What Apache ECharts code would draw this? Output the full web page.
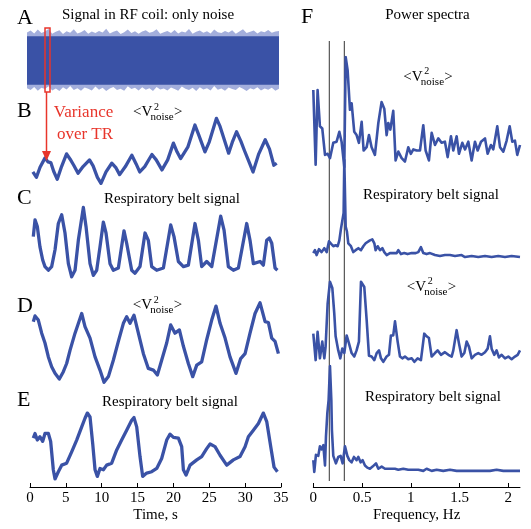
<!DOCTYPE html>
<html><head><meta charset="utf-8">
<script src="https://cdn.jsdelivr.net/npm/echarts@6/dist/echarts.min.js"></script>
<style>html,body{margin:0;padding:0;background:#fff}#c{width:531px;height:529px}</style>
</head><body><div id="c"></div>
<script>
// ---------- DATA (arbitrary units) ----------
const timeTicks = [0,5,10,15,20,25,30,35];
const freqTicks = [0,0.5,1,1.5,2];
const respMarkersHz = [0.164,0.318];

// A: raw RF coil noise envelope (0..20 a.u.), sampled every 0.5 s
const noiseStep = 0.5;
const noiseUpper = [18.6,19.2,18.3,19.5,18.4,18.9,19.7,18.2,18.8,19.3,18.1,19.0,18.5,19.6,18.3,18.7,19.4,18.2,18.9,18.4,19.1,18.6,19.8,18.3,18.8,19.2,18.1,18.7,19.5,18.4,19.0,18.2,18.9,19.3,18.5,18.8,19.6,18.2,18.7,19.1,18.4,19.4,18.3,18.9,18.6,19.7,18.2,18.8,19.2,18.5,19.0,18.3,19.5,18.7,18.4,19.1,18.6,19.3,18.2,18.9,19.6,18.4,18.8,19.2,18.3,19.0,18.7,19.4,18.5,18.9,19.1];
const noiseLower = [1.2,0.6,1.6,0.4,1.3,0.9,1.8,0.5,1.1,0.3,1.5,0.8,1.9,0.6,1.2,0.4,1.4,1.0,0.5,1.7,0.7,1.3,0.3,1.1,1.6,0.6,1.0,0.4,1.8,0.9,1.3,0.5,1.5,0.7,1.2,0.3,1.6,0.8,1.1,0.5,1.4,0.9,0.4,1.7,1.0,0.6,1.3,0.3,1.5,0.8,1.2,0.5,1.9,0.7,1.1,0.4,1.4,0.9,0.6,1.6,1.0,0.3,1.2,0.8,1.5,0.5,1.1,0.7,1.3,0.4,1.0];
const noiseCoreTop = 17.4;
const noiseCoreBottom = 2.3;

// B: <V^2 noise> vs time [s, a.u.]
const panelB = [[0.4,1.8],[0.9,1.0],[1.4,2.5],[2.1,3.9],[2.5,3.3],[2.9,3.2],[3.3,1.9],[3.8,0.7],[4.4,2.6],[5.1,4.5],[5.6,3.7],[6.1,2.8],[6.7,1.6],[7.4,2.6],[8.3,3.6],[8.8,2.7],[9.4,1.0],[9.9,0.1],[10.6,1.8],[11.4,3.1],[12.0,2.4],[12.5,1.4],[13.3,2.6],[14.2,4.3],[14.8,3.0],[15.3,1.8],[16.0,2.6],[17.0,4.4],[17.6,3.6],[18.4,2.1],[19.2,3.6],[20.0,6.1],[20.5,4.8],[21.0,3.8],[22.0,5.5],[23.0,8.8],[23.5,7.4],[24.4,4.8],[25.0,6.3],[26.0,9.8],[26.5,8.6],[27.7,4.6],[28.2,6.2],[28.8,7.8],[29.4,6.4],[29.9,5.0],[30.5,3.4],[31.1,1.8],[31.9,4.5],[32.8,6.6],[33.4,5.2],[34.0,2.8],[34.4,3.1]];
// C: respiratory belt signal
const panelC = [[0.46,5.8],[0.70,8.1],[1.02,7.2],[1.39,4.4],[1.77,2.6],[2.09,1.7],[2.56,1.2],[3.02,1.7],[3.49,4.0],[3.95,7.6],[4.42,8.8],[4.88,6.3],[5.35,2.1],[5.81,0.3],[6.28,1.2],[6.74,5.3],[7.44,9.8],[7.81,7.2],[8.37,2.1],[8.83,0.5],[9.30,1.2],[9.76,4.4],[10.23,7.8],[10.60,6.3],[11.16,2.1],[11.62,1.2],[12.32,1.5],[13.11,6.6],[13.48,4.9],[14.18,1.2],[14.64,0.8],[15.34,1.7],[16.04,6.3],[16.50,5.3],[16.97,1.7],[17.67,1.2],[18.60,1.5],[19.62,7.4],[20.08,5.8],[20.69,2.4],[21.39,1.7],[22.08,1.9],[23.01,7.6],[23.48,5.3],[23.94,1.7],[24.64,2.4],[25.34,1.7],[26.59,8.6],[27.06,6.7],[27.66,1.7],[28.36,1.2],[29.06,1.5],[30.22,7.6],[30.68,5.3],[31.15,2.1],[32.08,2.4],[32.54,1.9],[33.01,5.3],[33.38,5.6],[33.71,4.9],[34.17,1.5],[34.50,1.2]];
// D: <V^2 noise> (second recording)
const panelD = [[0.46,7.6],[0.70,8.3],[1.16,7.8],[1.63,6.2],[2.09,5.0],[2.56,3.3],[3.02,2.1],[3.49,1.3],[4.09,0.6],[4.65,1.5],[5.11,2.5],[5.58,4.1],[6.28,6.2],[7.21,8.6],[7.67,7.0],[8.37,5.6],[9.07,3.3],[9.76,1.7],[10.32,0.2],[10.93,0.9],[11.62,2.9],[12.32,5.2],[13.02,7.4],[13.48,8.2],[13.95,7.4],[14.50,8.4],[15.11,6.2],[15.81,3.7],[16.50,1.9],[17.20,1.7],[17.76,1.1],[18.36,2.9],[19.06,5.0],[19.62,7.2],[20.22,6.2],[20.83,6.6],[21.39,4.6],[22.08,2.5],[22.69,0.9],[23.25,2.3],[23.94,2.7],[24.64,5.4],[25.34,7.8],[25.94,9.5],[26.50,7.4],[27.20,5.6],[27.89,3.3],[28.73,1.3],[29.38,3.1],[29.99,3.7],[30.68,6.2],[31.38,8.6],[32.08,9.9],[32.78,7.6],[33.24,7.5],[33.71,5.6],[34.17,5.2],[34.64,3.7]];
// E: respiratory belt signal (second recording)
const panelE = [[0.46,6.2],[0.70,6.9],[1.02,5.9],[1.39,6.4],[1.77,5.7],[2.09,6.9],[2.56,6.9],[2.88,5.7],[3.25,1.4],[3.49,0.0],[3.95,1.1],[4.42,2.1],[5.11,2.4],[5.81,4.1],[6.51,5.9],[7.21,7.9],[7.67,9.2],[8.00,10.0],[8.37,9.4],[8.74,5.4],[9.07,1.4],[9.39,0.4],[9.76,1.6],[10.23,1.4],[10.69,2.1],[11.39,2.4],[12.09,4.4],[12.78,5.9],[13.48,7.4],[14.18,8.9],[14.50,9.3],[14.88,7.9],[15.34,3.4],[15.71,0.4],[16.27,0.9],[16.97,1.1],[17.67,1.6],[18.36,3.1],[19.06,5.9],[19.53,6.8],[20.00,6.3],[20.69,6.2],[21.15,4.9],[21.39,1.4],[21.76,0.6],[22.32,2.1],[23.25,2.9],[23.94,3.4],[24.64,4.6],[25.11,5.3],[25.80,4.9],[26.50,3.6],[27.43,2.1],[28.36,2.9],[29.29,3.4],[29.99,4.9],[30.45,6.4],[31.15,7.4],[31.85,8.4],[32.54,10.0],[33.01,8.7],[33.57,4.9],[34.03,1.8],[34.50,1.1]];

// F: power spectra [Hz, a.u.]
const specB = [[0,7.0],[0.024,0.2],[0.044,7.0],[0.068,3.7],[0.092,3.5],[0.12,1.1],[0.147,1.2],[0.171,0.8],[0.205,2.2],[0.239,2.3],[0.267,3.2],[0.29,2.3],[0.318,0.0],[0.332,10.0],[0.352,8.8],[0.376,5.2],[0.393,5.8],[0.42,3.2],[0.444,2.9],[0.468,2.2],[0.496,4.1],[0.516,1.5],[0.547,1.8],[0.571,2.9],[0.598,1.8],[0.632,1.1],[0.667,4.0],[0.70,5.9],[0.728,5.3],[0.752,2.9],[0.769,4.0],[0.79,3.4],[0.82,5.1],[0.844,0.6],[0.872,1.4],[0.906,0.8],[0.94,0.5],[0.974,1.8],[1.0,1.2],[1.026,1.6],[1.06,1.5],[1.094,1.5],[1.128,3.8],[1.152,1.5],[1.186,0.6],[1.214,3.1],[1.248,2.0],[1.282,2.6],[1.316,2.2],[1.35,2.3],[1.378,0.9],[1.412,2.8],[1.436,1.5],[1.47,2.8],[1.494,1.2],[1.528,2.2],[1.556,1.6],[1.59,2.3],[1.624,0.6],[1.658,2.3],[1.686,1.5],[1.72,2.3],[1.761,2.6],[1.788,1.2],[1.822,2.0],[1.846,1.6],[1.887,3.7],[1.915,1.8],[1.949,1.4],[1.983,2.4],[2.014,3.7],[2.041,2.3],[2.068,2.4],[2.092,1.1],[2.12,2.0]];
const specC = [[0,0.5],[0.017,0.8],[0.034,0.3],[0.058,0.9],[0.085,0.6],[0.113,1.0],[0.137,0.6],[0.161,1.7],[0.181,1.5],[0.205,1.2],[0.229,1.3],[0.25,1.2],[0.267,1.8],[0.284,3.0],[0.297,2.9],[0.311,4.6],[0.318,10.0],[0.332,3.2],[0.345,2.7],[0.359,1.5],[0.386,1.2],[0.41,0.6],[0.434,0.8],[0.462,1.0],[0.489,0.8],[0.513,1.2],[0.537,1.5],[0.557,1.5],[0.581,1.8],[0.605,1.9],[0.626,1.5],[0.639,0.8],[0.66,1.2],[0.684,0.8],[0.708,1.0],[0.728,0.6],[0.752,0.3],[0.786,0.5],[0.82,0.5],[0.855,0.5],[0.872,0.8],[0.899,0.4],[0.933,0.5],[0.967,0.4],[1.009,0.5],[1.05,0.5],[1.077,0.6],[1.104,1.1],[1.128,0.5],[1.162,0.4],[1.197,0.5],[1.248,0.3],[1.299,0.2],[1.35,0.3],[1.402,0.3],[1.453,0.2],[1.521,0.3],[1.556,0.1],[1.624,0.2],[1.692,0.1],[1.761,0.2],[1.829,0.1],[1.897,0.2],[1.966,0.1],[2.034,0.2],[2.12,0.1]];
const specD = [[0,3.9],[0.024,0.9],[0.044,4.1],[0.068,1.1],[0.092,3.0],[0.113,1.1],[0.126,2.4],[0.147,7.3],[0.171,9.8],[0.195,9.1],[0.215,6.2],[0.229,3.6],[0.256,2.0],[0.277,1.1],[0.297,2.2],[0.318,1.7],[0.342,3.7],[0.366,2.8],[0.393,1.7],[0.42,1.3],[0.444,2.0],[0.468,3.0],[0.489,9.8],[0.503,10.0],[0.523,9.2],[0.547,5.5],[0.571,1.4],[0.598,1.3],[0.626,0.9],[0.65,1.7],[0.674,2.0],[0.694,1.1],[0.718,0.7],[0.752,1.3],[0.776,1.5],[0.796,3.7],[0.82,3.7],[0.838,5.3],[0.865,3.0],[0.889,1.3],[0.913,1.1],[0.94,1.3],[0.974,1.0],[1.009,1.1],[1.036,0.7],[1.07,1.1],[1.104,0.9],[1.138,3.9],[1.162,3.6],[1.186,3.4],[1.214,1.3],[1.248,1.7],[1.275,2.0],[1.309,1.5],[1.35,1.8],[1.385,1.5],[1.419,1.3],[1.436,2.0],[1.47,4.3],[1.494,2.8],[1.521,1.3],[1.549,1.7],[1.573,3.0],[1.597,2.4],[1.624,1.1],[1.658,1.5],[1.692,1.7],[1.726,1.5],[1.761,1.8],[1.788,2.2],[1.812,3.6],[1.829,2.2],[1.856,1.5],[1.88,2.0],[1.904,1.2],[1.932,1.5],[1.966,1.1],[2.0,1.3],[2.034,1.0],[2.068,1.3],[2.096,1.5],[2.12,2.0]];
const specE = [[0,1.2],[0.01,0.1],[0.027,1.7],[0.051,1.6],[0.068,2.5],[0.085,2.2],[0.103,2.6],[0.12,0.7],[0.13,3.4],[0.144,5.6],[0.157,6.8],[0.171,10.0],[0.185,6.8],[0.191,4.0],[0.205,1.6],[0.232,0.9],[0.256,1.5],[0.28,1.6],[0.301,0.9],[0.325,2.5],[0.349,1.6],[0.369,1.2],[0.393,1.0],[0.417,1.5],[0.444,1.2],[0.462,1.5],[0.485,1.0],[0.506,1.2],[0.53,0.7],[0.554,0.5],[0.581,0.4],[0.608,0.6],[0.643,0.9],[0.667,0.4],[0.701,0.6],[0.735,0.4],[0.769,0.4],[0.803,0.4],[0.837,0.4],[0.872,0.3],[0.923,0.4],[0.974,0.3],[1.026,0.3],[1.077,0.3],[1.128,0.2],[1.162,0.4],[1.214,0.2],[1.265,0.3],[1.333,0.2],[1.402,0.3],[1.47,0.2],[1.538,0.2],[1.607,0.2],[1.675,0.2],[1.744,0.2],[1.812,0.2],[1.88,0.3],[1.949,0.2],[2.017,0.2],[2.12,0.2]];

// ---------- CHART ----------
const BLUE = '#3a52a6';
const LIGHT = '#a3aedc';
const RED = '#e8352b';
const SERIF = '"Liberation Serif","Times New Roman",serif';
const chart = echarts.init(document.getElementById('c'), null, {renderer:'canvas'});

const grids = [
  {left:27, top:28, width:252, height:64},     // 0 A
  {left:30, top:117, width:251, height:67},    // 1 B
  {left:30, top:206, width:251, height:73},    // 2 C
  {left:30, top:302, width:251, height:82},    // 3 D
  {left:30, top:413, width:251, height:66},    // 4 E
  {left:313.3, top:57, width:206.7, height:110},  // 5 F1
  {left:313.3, top:160, width:206.7, height:98},  // 6 F2
  {left:313.3, top:280, width:206.7, height:88},  // 7 F3
  {left:313.3, top:366, width:206.7, height:107}, // 8 F4
  {left:313.3, top:41, width:206.7, height:440}   // 9 marker lines
];
const axisFont = {fontFamily:SERIF, fontSize:15, color:'#000'};
const xAxes = grids.map((g,i)=>{
  const isTime = i<5;
  const base = {type:'value', gridIndex:i, min:0, max: isTime?35:2.12, show:false};
  if (i===4) Object.assign(base,{show:true, interval:5, offset:8,
    axisLine:{onZero:false, lineStyle:{color:'#000',width:1}},
    axisTick:{inside:true,length:4,lineStyle:{color:'#000'}},
    axisLabel:Object.assign({margin:4}, axisFont), splitLine:{show:false},
    name:'Time, s', nameLocation:'middle', nameGap:21, nameTextStyle:axisFont});
  if (i===8) Object.assign(base,{show:true, offset:14,
    axisLine:{onZero:false, lineStyle:{color:'#000',width:1}},
    axisTick:{inside:true,length:4,lineStyle:{color:'#000'}, customValues:freqTicks},
    axisLabel:Object.assign({margin:4, customValues:freqTicks}, axisFont), splitLine:{show:false},
    name:'Frequency, Hz', nameLocation:'middle', nameGap:21, nameTextStyle:axisFont});
  return base;
});
const yAxes = grids.map((g,i)=>({type:'value', gridIndex:i, min:0, max: i===0?20:(i===9?1:10), show:false}));

// A: noise band drawn as opaque layered areas (each filled down to the axis minimum)
const noiseT = noiseUpper.map((_,i)=>i*noiseStep);
function layer(vals, color, z){
  return {type:'line', xAxisIndex:0, yAxisIndex:0, showSymbol:false, silent:true, z:z,
    lineStyle:{width:0}, areaStyle:{color:color, opacity:1, origin:'start'},
    data: vals.map((v,i)=>[noiseT[i], v])};
}
const series = [
  layer(noiseUpper, LIGHT, 1),
  layer(noiseUpper.map(()=>noiseCoreTop), BLUE, 2),
  layer(noiseUpper.map(()=>noiseCoreBottom), LIGHT, 3),
  layer(noiseLower, '#ffffff', 4)
];

[[panelB,1],[panelC,2],[panelD,3],[panelE,4]].forEach(([d,i])=>{
  series.push({type:'line', xAxisIndex:i, yAxisIndex:i, data:d, showSymbol:false, silent:true,
    lineStyle:{color:BLUE, width:3.3, join:'round'}, itemStyle:{color:BLUE}});
});
[[specB,5],[specC,6],[specD,7],[specE,8]].forEach(([d,i])=>{
  series.push({type:'line', xAxisIndex:i, yAxisIndex:i, data:d, showSymbol:false, silent:true, z:3,
    lineStyle:{color:BLUE, width:2.6, join:'round'}, itemStyle:{color:BLUE}});
});
respMarkersHz.forEach(m=>{
  series.push({type:'line', xAxisIndex:9, yAxisIndex:9, data:[[m,0],[m,1]], showSymbol:false, silent:true, z:1,
    lineStyle:{color:'#333', width:1}});
});

function T(text,x,y,size,extra){
  const st = Object.assign({text:text, font:size+'px '+SERIF, fill:'#000',
    align:'center', textAlign:'center', verticalAlign:'middle', textVerticalAlign:'middle'}, extra||{});
  return {type:'text', x:x, y:y, silent:true, z:100, style:st};
}
const L = {align:'left', textAlign:'left'};
function vnoise(x0, cy){
  return [T('<V', x0, cy, 15, L), T('2', x0+21, cy-5, 10, L), T('noise', x0+17.5, cy+5, 11, L), T('>', x0+41, cy, 15, L)];
}
const graphics = [
  T('A',17,18,22,L), T('B',17,111,22,L), T('C',17,198,22,L), T('D',17,306.5,22,L), T('E',17,400,22,L), T('F',301,17.5,22,L),
  T('Signal in RF coil: only noise',148,15,15),
  T('Respiratory belt signal',172,199,15),
  T('Respiratory belt signal',170,402,15),
  T('Power spectra',427.5,15,15),
  T('Respiratory belt signal',431,195,15),
  T('Respiratory belt signal',433,397,15),
  T('Variance',83.5,113,17,{fill:RED}),
  T('over TR',85,135,17,{fill:RED}),
  ...vnoise(133,112), ...vnoise(132.7,305.5), ...vnoise(403.3,76.7), ...vnoise(406.7,286.7),
  {type:'rect', silent:true, z:100, shape:{x:45,y:28,width:5,height:64}, style:{fill:null, stroke:RED, lineWidth:1.5}},
  {type:'line', silent:true, z:100, shape:{x1:46.5,y1:92,x2:46.5,y2:153}, style:{stroke:RED, lineWidth:1.5}},
  {type:'polygon', silent:true, z:100, shape:{points:[[42,151],[51,151],[46.5,161]]}, style:{fill:RED}}
];

chart.setOption({
  animation:false, backgroundColor:'#fff',
  grid:grids, xAxis:xAxes, yAxis:yAxes, series:series, graphic:{elements:graphics}
});
</script></body></html>
